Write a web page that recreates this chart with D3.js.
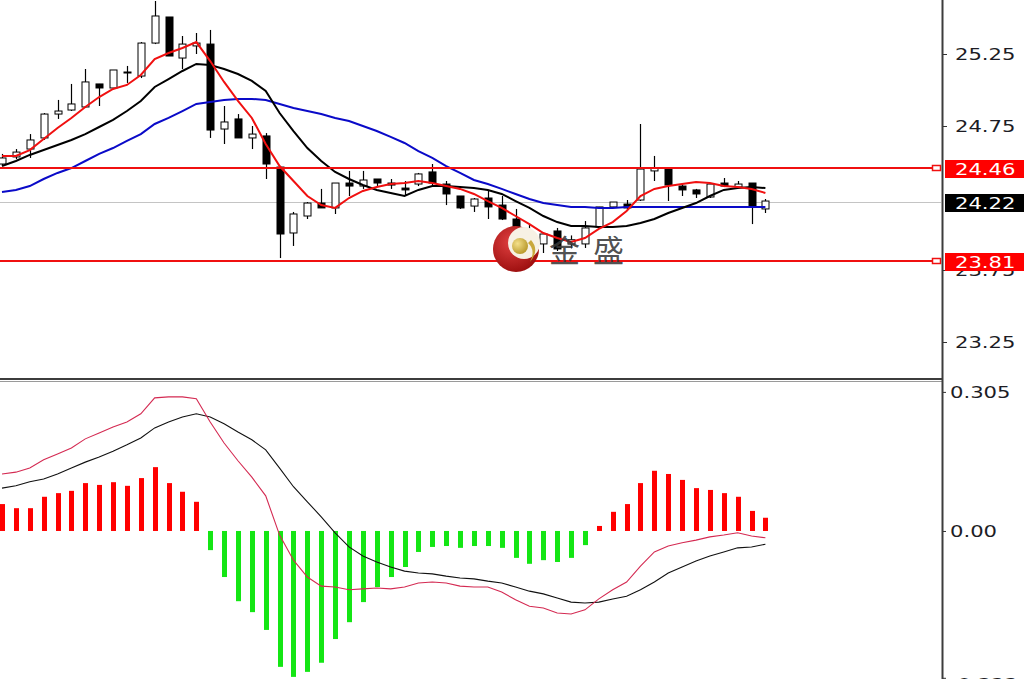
<!DOCTYPE html>
<html><head><meta charset="utf-8">
<script src="https://cdn.jsdelivr.net/npm/d3@7"></script>
<style>html,body{margin:0;padding:0;background:#fff;overflow:hidden}</style>
</head><body><svg id="c" width="1024" height="679"></svg>
<script>
// ---- data ----
const barIndex = d3.range(56);
const open  = [24.486,24.535,24.590,24.667,24.833,24.861,24.882,25.042,25.014,25.118,25.097,25.326,25.507,25.222,25.306,25.319,24.729,24.799,24.667,24.681,24.465,24.007,24.125,24.215,24.181,24.354,24.333,24.382,24.354,24.319,24.347,24.431,24.347,24.264,24.194,24.250,24.201,24.104,23.938,23.931,24.021,23.930,23.931,24.049,24.188,24.208,24.236,24.438,24.458,24.333,24.306,24.257,24.354,24.326,24.354,24.174];
const high  = [24.556,24.590,24.694,24.840,24.931,25.042,25.146,25.042,25.139,25.167,25.333,25.618,25.507,25.375,25.396,25.417,24.889,24.833,24.750,24.701,24.465,24.153,24.222,24.313,24.354,24.438,24.438,24.382,24.382,24.368,24.424,24.486,24.368,24.264,24.250,24.306,24.264,24.174,24.069,24.007,24.042,23.990,24.090,24.188,24.222,24.236,24.764,24.542,24.458,24.347,24.313,24.354,24.389,24.368,24.354,24.243];
const low   = [24.472,24.521,24.528,24.653,24.799,24.854,24.875,24.889,25.007,25.049,25.083,25.319,25.236,25.146,25.250,24.667,24.625,24.667,24.590,24.382,23.833,23.917,24.104,24.181,24.139,24.264,24.313,24.333,24.313,24.271,24.333,24.340,24.201,24.174,24.153,24.104,24.097,24.014,23.896,23.868,23.882,23.900,23.903,24.049,24.181,24.174,24.229,24.368,24.229,24.264,24.250,24.250,24.326,24.319,24.069,24.146];
const close = [24.528,24.569,24.653,24.833,24.854,24.903,25.056,25.014,25.139,25.125,25.326,25.514,25.236,25.319,25.326,24.722,24.778,24.667,24.694,24.486,24.000,24.139,24.215,24.181,24.354,24.333,24.375,24.354,24.340,24.306,24.417,24.354,24.278,24.181,24.243,24.188,24.104,24.021,23.903,24.000,23.896,23.960,24.042,24.188,24.222,24.181,24.451,24.458,24.340,24.306,24.278,24.347,24.333,24.347,24.188,24.229];
const maFast = [24.542,24.542,24.583,24.660,24.736,24.806,24.882,24.951,25.007,25.035,25.104,25.215,25.257,25.292,25.333,25.201,25.056,24.924,24.806,24.625,24.472,24.368,24.264,24.201,24.181,24.250,24.299,24.326,24.347,24.354,24.368,24.354,24.333,24.313,24.278,24.229,24.181,24.125,24.069,24.007,23.972,23.944,23.972,24.035,24.083,24.160,24.264,24.313,24.333,24.347,24.361,24.354,24.333,24.326,24.313,24.285];
const maMid  = [24.472,24.507,24.549,24.583,24.618,24.653,24.694,24.743,24.792,24.854,24.924,25.021,25.076,25.132,25.181,25.174,25.146,25.111,25.063,24.993,24.840,24.715,24.597,24.507,24.431,24.382,24.340,24.306,24.285,24.264,24.306,24.333,24.333,24.326,24.319,24.306,24.278,24.229,24.181,24.125,24.083,24.056,24.056,24.049,24.049,24.056,24.076,24.104,24.146,24.181,24.215,24.264,24.306,24.319,24.326,24.319];
const maSlow = [24.292,24.306,24.333,24.382,24.424,24.458,24.507,24.556,24.597,24.646,24.694,24.764,24.806,24.854,24.903,24.917,24.931,24.938,24.938,24.931,24.903,24.875,24.854,24.833,24.806,24.785,24.750,24.715,24.674,24.632,24.576,24.528,24.472,24.424,24.375,24.347,24.313,24.278,24.243,24.215,24.201,24.188,24.188,24.181,24.181,24.188,24.188,24.188,24.188,24.188,24.188,24.188,24.188,24.188,24.188,24.188];
const macdHist = [0.059,0.050,0.050,0.075,0.083,0.088,0.105,0.101,0.107,0.099,0.116,0.140,0.105,0.086,0.064,-0.042,-0.101,-0.154,-0.178,-0.217,-0.298,-0.320,-0.309,-0.289,-0.237,-0.200,-0.156,-0.123,-0.101,-0.079,-0.046,-0.035,-0.033,-0.037,-0.033,-0.033,-0.037,-0.059,-0.072,-0.064,-0.068,-0.059,-0.031,0.011,0.042,0.059,0.105,0.132,0.125,0.112,0.094,0.090,0.083,0.075,0.044,0.029];
const macdLine = [0.094,0.099,0.108,0.114,0.125,0.138,0.151,0.162,0.175,0.189,0.204,0.226,0.239,0.250,0.257,0.250,0.235,0.217,0.200,0.178,0.138,0.097,0.064,0.031,-0.004,-0.035,-0.055,-0.068,-0.079,-0.088,-0.092,-0.094,-0.099,-0.103,-0.105,-0.110,-0.114,-0.123,-0.132,-0.138,-0.147,-0.156,-0.158,-0.156,-0.149,-0.143,-0.129,-0.112,-0.092,-0.079,-0.066,-0.055,-0.046,-0.037,-0.035,-0.029];
const signalLine = [0.125,0.129,0.138,0.156,0.169,0.182,0.202,0.215,0.228,0.239,0.257,0.292,0.294,0.294,0.290,0.239,0.193,0.154,0.118,0.077,-0.009,-0.064,-0.101,-0.121,-0.123,-0.129,-0.127,-0.125,-0.127,-0.123,-0.114,-0.112,-0.114,-0.121,-0.123,-0.123,-0.134,-0.151,-0.165,-0.169,-0.180,-0.182,-0.173,-0.149,-0.129,-0.112,-0.077,-0.046,-0.033,-0.026,-0.020,-0.013,-0.009,-0.004,-0.011,-0.015];
const priceTicks = [25.25, 24.75, 23.75, 23.25];
const levelLines = [24.46, 23.81];
const lastPrice = 24.22;
const macdTicks = [0.305, 0, -0.322];
const macdTickLabels = ["0.305", "0.00", "-0.322"];
const watermark = ["金", "盛"];

// ---- drawing ----
const svg = d3.select('#c');
const FONT = "'DejaVu Sans', Verdana, sans-serif";
const x = d3.scaleLinear().domain([0, 55]).range([2, 765.4]);
const yP = d3.scaleLinear().domain([23.25, 25.25]).range([342, 54]);
const yM = d3.scaleLinear().domain([-0.322, 0.305]).range([677.8, 391.9]);
const px = i => Math.round(x(i)) + 0.5;

const defs = svg.append('defs');
defs.append('clipPath').attr('id', 'cp').append('rect').attr('x', 0).attr('y', 0).attr('width', 941).attr('height', 378);
defs.append('clipPath').attr('id', 'cm').append('rect').attr('x', 0).attr('y', 382).attr('width', 941).attr('height', 297);
const rg = defs.append('radialGradient').attr('id', 'lg').attr('cx', '40%').attr('cy', '35%').attr('r', '70%');
rg.append('stop').attr('offset', '0%').attr('stop-color', '#e04040');
rg.append('stop').attr('offset', '100%').attr('stop-color', '#9a0d0d');
const gg = defs.append('radialGradient').attr('id', 'gg').attr('cx', '35%').attr('cy', '35%').attr('r', '70%');
gg.append('stop').attr('offset', '0%').attr('stop-color', '#f4e08a');
gg.append('stop').attr('offset', '100%').attr('stop-color', '#b8982a');

svg.append('rect').attr('width', 1024).attr('height', 679).attr('fill', '#fff');

// price panel
const gp = svg.append('g').attr('clip-path', 'url(#cp)');
gp.append('line').attr('x1', 0).attr('x2', 942).attr('y1', Math.round(yP(lastPrice)) + 0.5).attr('y2', Math.round(yP(lastPrice)) + 0.5)
  .attr('stroke', '#c4c4c4').attr('stroke-width', 1);

// candles
const cg = gp.append('g');
barIndex.forEach(i => {
  const cx = px(i);
  cg.append('line').attr('x1', cx).attr('x2', cx).attr('y1', yP(high[i])).attr('y2', yP(low[i]))
    .attr('stroke', '#000').attr('stroke-width', 1.2);
  const top = yP(Math.max(open[i], close[i])), bot = yP(Math.min(open[i], close[i]));
  const up = close[i] >= open[i];
  cg.append('rect').attr('x', cx - 3.5).attr('y', top).attr('width', 7).attr('height', Math.max(1, bot - top))
    .attr('fill', up ? '#fff' : '#000').attr('stroke', '#000').attr('stroke-width', 1);
});

const lineP = arr => d3.line().x((d, i) => x(i)).y(d => yP(d))(arr);
gp.append('path').attr('d', lineP(maSlow)).attr('fill', 'none').attr('stroke', '#0a0ac8').attr('stroke-width', 2);
gp.append('path').attr('d', lineP(maMid)).attr('fill', 'none').attr('stroke', '#000').attr('stroke-width', 2);
gp.append('path').attr('d', lineP(maFast)).attr('fill', 'none').attr('stroke', '#f01010').attr('stroke-width', 2);

// level lines
levelLines.forEach(v => {
  const yy = Math.round(yP(v));
  gp.append('line').attr('x1', 0).attr('x2', 933).attr('y1', yy).attr('y2', yy).attr('stroke', '#f01010').attr('stroke-width', 2);
  svg.append('rect').attr('x', 932.5).attr('y', yy - 2.5).attr('width', 8).attr('height', 5)
    .attr('fill', '#fff').attr('stroke', '#f01010').attr('stroke-width', 1.5);
});

// watermark logo
const wm = svg.append('g');
wm.append('circle').attr('cx', 516).attr('cy', 249).attr('r', 23).attr('fill', 'url(#lg)');
wm.append('circle').attr('cx', 524).attr('cy', 243).attr('r', 16).attr('fill', '#f7f1e4');
wm.append('circle').attr('cx', 520).attr('cy', 246).attr('r', 8).attr('fill', 'url(#gg)');
wm.append('path').attr('d', 'M531,240 Q540,250 530,262 Q536,250 528,243 Z').attr('fill', '#c9a83a');
wm.selectAll('text.wm').data(watermark).join('text').attr('class', 'wm')
  .attr('x', (d, i) => 549 + i * 44).attr('y', 262)
  .attr('font-family', "'Noto Sans CJK SC', sans-serif").attr('font-size', 31)
  .attr('fill', '#3a3a3a').attr('fill-opacity', 0.9).text(d => d);

// MACD panel
const gm = svg.append('g').attr('clip-path', 'url(#cm)');
gm.selectAll('rect.h').data(barIndex).join('rect').attr('class', 'h')
  .attr('x', i => Math.round(x(i)) - 2).attr('width', 5)
  .attr('y', i => Math.min(yM(0), yM(macdHist[i])))
  .attr('height', i => Math.abs(yM(macdHist[i]) - yM(0)))
  .attr('fill', i => macdHist[i] >= 0 ? '#ff0000' : '#14e614');
const lineM = arr => d3.line().x((d, i) => x(i)).y(d => yM(d))(arr);
gm.append('path').attr('d', lineM(macdLine)).attr('fill', 'none').attr('stroke', '#111').attr('stroke-width', 1.1);
gm.append('path').attr('d', lineM(signalLine)).attr('fill', 'none').attr('stroke', '#d42a52').attr('stroke-width', 1.1);

// panel frame
svg.append('line').attr('x1', 0).attr('x2', 943).attr('y1', 379).attr('y2', 379).attr('stroke', '#3c3c3c').attr('stroke-width', 2);
svg.append('line').attr('x1', 0).attr('x2', 943).attr('y1', 381.5).attr('y2', 381.5).attr('stroke', '#9a9a9a').attr('stroke-width', 1);
svg.append('line').attr('x1', 942.5).attr('x2', 942.5).attr('y1', 0).attr('y2', 679).attr('stroke', '#3c3c3c').attr('stroke-width', 2);

function stretch(sel, k) {
  sel.each(function () {
    const w = this.getComputedTextLength();
    d3.select(this).attr('textLength', w * k).attr('lengthAdjust', 'spacingAndGlyphs');
  });
}

// price axis
const ax = svg.append('g').attr('transform', 'translate(943,0)')
  .call(d3.axisRight(yP).tickValues(priceTicks).tickSize(4).tickPadding(8).tickFormat(d3.format('.2f')));
ax.select('.domain').remove();
ax.selectAll('line').attr('stroke', '#333');
ax.selectAll('text').attr('font-family', FONT).attr('font-size', 16).attr('fill', '#1c1c24').attr('dy', '0.36em');
stretch(ax.selectAll('text'), 1.32);

// MACD axis
const am = svg.append('g').attr('transform', 'translate(943,0)')
  .call(d3.axisRight(yM).tickValues(macdTicks).tickSize(3).tickPadding(4).tickFormat((d, i) => macdTickLabels[i]));
am.select('.domain').remove();
am.selectAll('line').attr('stroke', '#333');
am.selectAll('text').attr('font-family', FONT).attr('font-size', 16).attr('fill', '#1c1c24').attr('dy', (d, i) => i === 2 ? '0.7em' : '0.36em');
stretch(am.selectAll('text'), 1.32);

// price tags
const tags = [{v: levelLines[0], c: '#ff0000'}, {v: lastPrice, c: '#000'}, {v: levelLines[1], c: '#ff0000'}];
tags.forEach(t => {
  const yy = Math.round(yP(t.v));
  svg.append('rect').attr('x', 945).attr('y', yy - 8).attr('width', 79).attr('height', 18).attr('fill', t.c);
  const tx = svg.append('text').attr('x', 955).attr('y', yy + 1).attr('dy', '0.36em')
    .attr('font-family', FONT).attr('font-size', 16).attr('fill', '#fff').text(d3.format('.2f')(t.v));
  stretch(tx, 1.32);
});
</script></body></html>
